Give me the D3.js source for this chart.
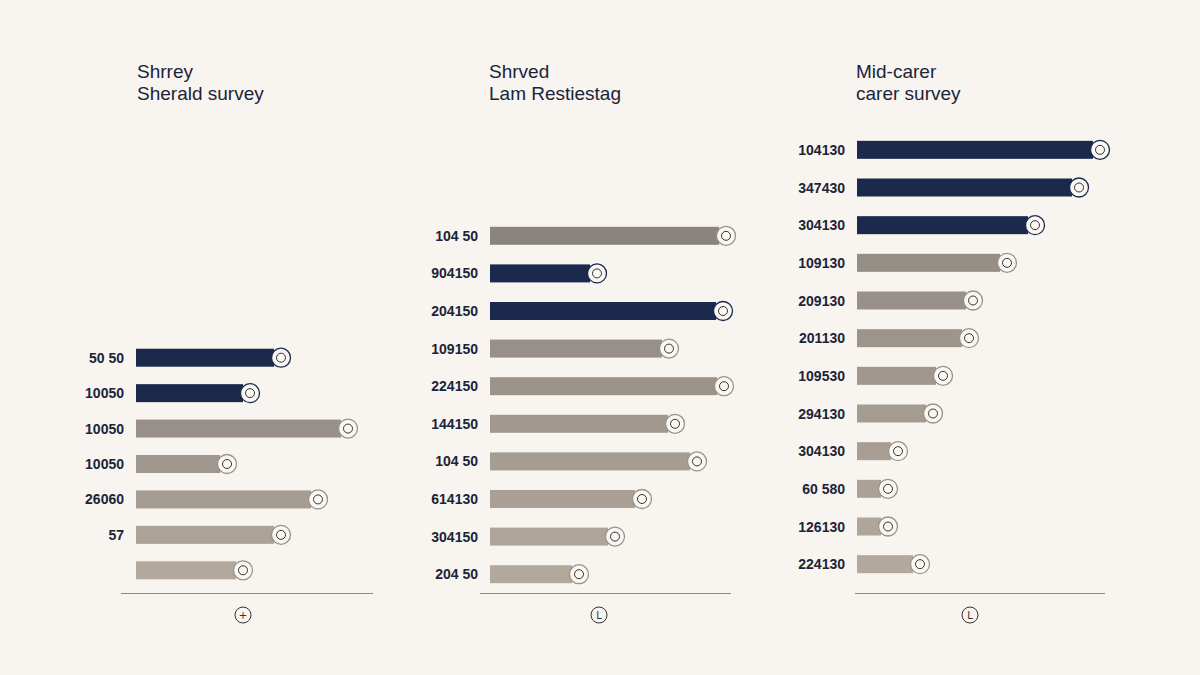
<!DOCTYPE html>
<html><head><meta charset="utf-8">
<script src="https://cdn.jsdelivr.net/npm/d3@7"></script>
<style>body{margin:0;background:#f8f4ef}</style></head>
<body><svg id="c" width="1200" height="675"></svg>
<script>
const titles1=["Shrrey","Sherald survey"], titles2=["Shrved","Lam Restiestag"], titles3=["Mid-carer","carer survey"];
const labels1=["50  50","10050","10050","10050","26060","57",""];
const values1=[138,107,205,84,175,138,100];
const dark1=[1,1,0,0,0,0,0];
const labels2=["104 50","904150","204150","109150","224150","144150","104 50","614130","304150","204 50"];
const values2=[229,100,226,172,227,178,200,145,118,82];
const dark2=[0,1,1,0,0,0,0,0,0,0];
const labels3=["104130","347430","304130","109130","209130","201130","109530","294130","304130","60 580","126130","224130"];
const values3=[236,215,171,143,109,105,79,69,34,24,24,56];
const dark3=[1,1,1,0,0,0,0,0,0,0,0,0];
const icons=["+","L","L"];

const svg=d3.select("#c");
svg.append("rect").attr("width",1200).attr("height",675).attr("fill","#f8f4ef");
const navy="#1b2a4c";
const grays=d3.interpolateRgb("#8a847e","#b3a89c");
const panels=[
 {t:titles1,l:labels1,v:values1,d:dark1,x0:136,lx:124,y0:340,y1:588,ax:[121,373],tx:137,ic:243},
 {t:titles2,l:labels2,v:values2,d:dark2,x0:490,lx:478,y0:217,y1:593,ax:[480,731],tx:489,ic:599},
 {t:titles3,l:labels3,v:values3,d:dark3,x0:857,lx:845,y0:131,y1:583,ax:[855,1105],tx:856,ic:970}
];
panels.forEach((p,pi)=>{
 const x=d3.scaleLinear().domain([0,250]).range([p.x0,p.x0+250]);
 const y=d3.scaleBand().domain(d3.range(p.v.length)).range([p.y0,p.y1]).paddingInner(0.5).paddingOuter(0.25);
 const g=svg.append("g");
 p.t.forEach((t,i)=>g.append("text").attr("x",p.tx).attr("y",78+i*22).text(t)
   .attr("font-family","Liberation Sans, Arial").attr("font-size",19).attr("fill","#1b2438"));
 p.v.forEach((v,i)=>{
  const yy=y(i), h=18, cy=yy+y.bandwidth()/2;
  const col=p.d[i]?navy:grays(i/(p.v.length-1));
  g.append("rect").attr("x",x(0)).attr("y",cy-h/2).attr("width",x(v)-x(0)).attr("height",h).attr("fill",col);
  g.append("circle").attr("cx",x(v)+7).attr("cy",cy).attr("r",9.5).attr("fill","#fbf8f4").attr("stroke",p.d[i]?navy:"#9a938c").attr("stroke-width",1.3);
  g.append("circle").attr("cx",x(v)+7).attr("cy",cy).attr("r",4.5).attr("fill","none").attr("stroke","#333").attr("stroke-width",1);
  g.append("text").attr("x",p.lx).attr("y",cy+5).attr("text-anchor","end").text(p.l[i])
   .attr("font-family","Liberation Sans, Arial").attr("font-weight","bold").attr("font-size",14).attr("fill","#1b2438");
 });
 g.append("line").attr("x1",p.ax[0]).attr("x2",p.ax[1]).attr("y1",593.5).attr("y2",593.5).attr("stroke","#8d8a86");
 g.append("circle").attr("cx",p.ic).attr("cy",615).attr("r",8).attr("fill","none").attr("stroke","#333");
 g.append("text").attr("x",p.ic).attr("y",619).attr("text-anchor","middle").text(icons[pi])
  .attr("font-family","DejaVu Sans").attr("font-size",10).attr("fill","#333");
});
</script></body></html>
